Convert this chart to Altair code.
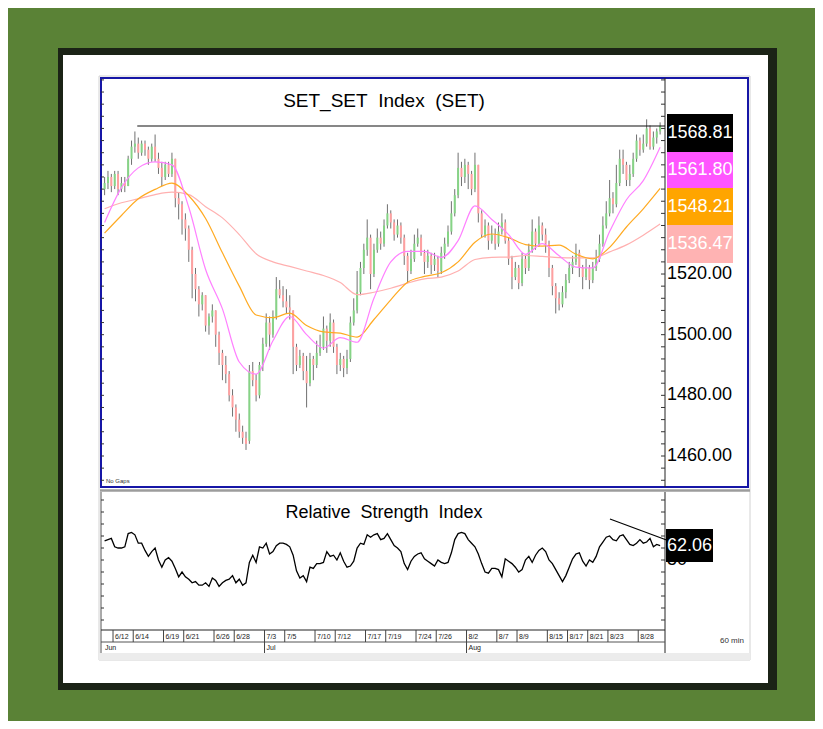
import altair as alt
import pandas as pd

# ---------------- data (hourly-ish bars, 3 per trading day) ----------------
opens = [1548,1550,1552,1549,1553,1548,1550,1549,1558,1562,
         1563,1560,1563,1561,1558,1562,1558,1555,1552,1556,
         1553,1558,1545,1543,1538,1535,1528,1520,1515,1510,
         1513,1503,1506,1508,1500,1494,1490,1487,1480,1476,
         1472,1468,1466,1465,1488,1485,1480,1490,1497,1504,
         1500,1506,1515,1513,1511,1509,1508,1496,1490,1493,
         1488,1484,1492,1490,1494,1496,1502,1498,1504,1496,
         1490,1492,1489,1492,1504,1508,1514,1522,1528,1532,
         1520,1528,1532,1530,1536,1540,1537,1533,1536,1532,
         1526,1521,1525,1530,1532,1527,1524,1526,1523,1525,
         1521,1527,1530,1534,1540,1546,1555,1552,1556,1553,
         1548,1556,1540,1533,1536,1531,1533,1530,1534,1537,
         1531,1525,1519,1522,1517,1525,1522,1528,1534,1530,
         1536,1533,1530,1522,1516,1512,1510,1514,1518,1522,
         1524,1527,1522,1519,1522,1518,1522,1525,1530,1536,
         1540,1545,1543,1550,1558,1556,1551,1553,1558,1564,
         1561,1563,1568,1562,1565,1567]
highs = [1552,1554,1553,1554,1554,1552,1552,1559,1564,1567,
         1565,1564,1564,1562,1563,1566,1560,1557,1557,1557,
         1560,1558,1547,1544,1540,1536,1529,1522,1516,1514,
         1513,1507,1510,1508,1501,1495,1493,1488,1482,1477,
         1474,1470,1468,1490,1491,1487,1491,1499,1507,1506,
         1508,1519,1518,1516,1515,1513,1508,1497,1495,1494,
         1493,1494,1493,1498,1500,1506,1503,1507,1505,1497,
         1494,1493,1495,1506,1512,1521,1524,1530,1538,1533,
         1530,1535,1534,1538,1543,1541,1538,1538,1537,1533,
         1527,1528,1533,1535,1533,1528,1528,1527,1527,1526,
         1529,1532,1536,1544,1548,1560,1557,1558,1557,1554,
         1560,1556,1541,1538,1537,1536,1535,1537,1540,1538,
         1532,1526,1524,1523,1527,1526,1530,1538,1535,1539,
         1537,1535,1531,1523,1517,1514,1516,1520,1524,1526,
         1530,1528,1523,1525,1523,1524,1528,1533,1539,1544,
         1551,1547,1556,1561,1561,1557,1556,1560,1566,1565,
         1566,1571,1569,1567,1568,1570]
lows = [1546,1548,1547,1548,1546,1547,1547,1549,1556,1560,
        1558,1559,1559,1556,1557,1557,1553,1549,1551,1552,
        1552,1542,1538,1533,1531,1524,1512,1511,1506,1508,
        1501,1500,1504,1496,1490,1485,1484,1478,1473,1468,
        1466,1464,1462,1464,1483,1478,1479,1488,1496,1495,
        1499,1505,1512,1509,1507,1505,1487,1488,1489,1485,
        1476,1483,1485,1489,1493,1495,1494,1496,1494,1487,
        1488,1486,1487,1491,1503,1507,1513,1520,1526,1515,
        1519,1527,1528,1529,1535,1535,1531,1532,1530,1523,
        1517,1520,1524,1529,1526,1520,1522,1520,1521,1519,
        1520,1525,1529,1533,1539,1545,1549,1550,1548,1546,
        1547,1537,1532,1532,1528,1530,1528,1529,1533,1530,
        1523,1515,1518,1515,1516,1520,1521,1527,1528,1529,
        1531,1527,1519,1513,1507,1508,1509,1512,1517,1520,
        1523,1519,1515,1518,1515,1517,1521,1524,1529,1535,
        1539,1540,1542,1549,1553,1549,1549,1552,1557,1559,
        1560,1562,1561,1561,1563,1566]
closes = [1550,1552,1549,1553,1548,1550,1549,1558,1562,1563,
          1560,1563,1561,1558,1562,1558,1555,1552,1556,1553,
          1558,1545,1543,1538,1535,1528,1520,1515,1510,1513,
          1503,1506,1508,1500,1494,1490,1487,1480,1476,1472,
          1468,1466,1464,1488,1485,1480,1490,1497,1504,1500,
          1506,1515,1513,1511,1509,1508,1496,1490,1493,1488,
          1484,1492,1490,1494,1496,1502,1498,1504,1496,1490,
          1492,1489,1492,1504,1508,1514,1522,1528,1532,1520,
          1528,1532,1530,1536,1540,1537,1533,1536,1532,1526,
          1521,1525,1530,1532,1527,1524,1526,1523,1525,1521,
          1527,1530,1534,1540,1546,1555,1552,1556,1553,1548,
          1556,1540,1533,1536,1531,1533,1530,1534,1537,1531,
          1525,1519,1522,1517,1525,1522,1528,1534,1530,1536,
          1533,1530,1522,1516,1512,1510,1514,1518,1522,1524,
          1527,1522,1519,1522,1518,1522,1525,1530,1536,1540,
          1545,1543,1550,1558,1556,1551,1553,1558,1564,1561,
          1563,1568,1562,1565,1567,1568.81]
rsi_values = [66,67,68,61,60,60,61,72,73,71,
              64,64,58,53,57,60,50,44,50,52,
              49,43,36,40,36,34,31,32,29,29,
              31,28,35,33,28,31,33,34,37,31,
              34,29,31,48,54,48,61,60,64,55,
              57,62,64,64,63,61,54,41,35,37,
              32,44,43,47,47,48,57,53,54,50,
              56,49,44,45,49,60,64,63,71,69,
              71,72,67,68,72,67,62,60,57,47,
              42,49,53,55,56,51,49,47,45,50,
              48,47,48,56,67,72,73,72,67,64,
              61,55,47,40,39,43,43,42,36,51,
              49,47,44,40,42,50,53,48,54,58,
              60,57,50,47,42,37,32,37,44,51,
              55,56,49,45,50,48,53,61,65,69,
              70,67,66,70,71,67,63,62,64,67,
              64,65,68,61,63,62.06]
# moving averages read every 5 bars
ma_short = [1537,1548.5,1555,1557,1556,1542,1521.5,1508.5,1491,1487,1498,1506,1500,1495.6,
            1499,1497.5,1512,1524,1527.5,1527.5,1525.5,1531,1542.5,1538,1533,1526.5,1530,
            1526,1522.3,1522,1534,1544.5,1550.8,1561.8]
ma_mid = [1533.5,1539.3,1544.8,1547.9,1550,1545.8,1538.3,1527,1516,1506.5,1505.6,1507.1,1503,
          1500.9,1500.5,1499.2,1505,1511.5,1517.3,1519.2,1520.4,1524,1530.5,1533.2,1532,1529.7,
          1529.2,1529.5,1526.5,1525,1528.8,1535.5,1541.5,1548.21]
ma_long = [1541.5,1543.5,1544.8,1546.2,1547,1546.2,1542.2,1538.5,1533,1526.7,1524,1522.5,1521,
           1519.5,1517.2,1513.2,1514,1515.3,1517,1518.4,1519,1521,1524.8,1525.5,1525.6,1526.1,
           1525.8,1525.4,1525.3,1525.3,1527.3,1529.6,1532.8,1536.47]
last_labels = ["1568.81", "1561.80", "1548.21", "1536.47"]
price_axis_labels = [1520, 1500, 1480, 1460]
date_labels = ["6/12","6/14","6/19","6/21","6/26","6/28","7/3","7/5","7/10","7/12","7/17",
               "7/19","7/24","7/26","8/2","8/7","8/9","8/15","8/17","8/21","8/23","8/28"]
date_days = [0,2,5,7,10,12,15,17,20,22,25,27,30,32,35,38,40,43,45,47,49,52]
month_labels = ["Jun", "Jul", "Aug"]
month_days = [-1, 15, 35]
resistance_level = 1568.81
resistance_from_day = 2.4
rsi_trend_days = [49.2, 54.8]
rsi_trend_vals = [84.2, 66.7]
rsi_last = 62.06

bars_per_day = 3
first_day = -1
n = len(closes)
bar_day = [first_day + (i + 0.5) / bars_per_day for i in range(n)]
bars = pd.DataFrame(dict(t=bar_day, o=opens, h=highs, l=lows, c=closes, rsi=rsi_values))
ma_every = 5
ma_day = [bar_day[i] for i in range(0, n, ma_every)]

DAY_DOMAIN = [-1.19, 54.65]
PRICE_DOMAIN = [1449.78, 1584.63]
RSI_DOMAIN = [-8.33, 106.67]
FONT = "Liberation Sans, Arial, sans-serif"
one = pd.DataFrame({"k": [0]})


def X(field="t"):
    return alt.X(f"{field}:Q", scale=alt.Scale(domain=DAY_DOMAIN, range=[93, 657], nice=False, zero=False), axis=None)


def YP(field):
    return alt.Y(f"{field}:Q", scale=alt.Scale(domain=PRICE_DOMAIN, range=[479, 70], nice=False, zero=False), axis=None)


def YR(field):
    return alt.Y(f"{field}:Q", scale=alt.Scale(domain=RSI_DOMAIN, range=[622, 484], nice=False, zero=False), axis=None)


def rect(x1, y1, x2, y2, **kw):
    return alt.Chart(one).mark_rect(**kw).encode(
        x=alt.value(x1), x2=alt.value(x2), y=alt.value(y1), y2=alt.value(y2))


def rule(x1, y1, x2, y2, **kw):
    return alt.Chart(one).mark_rule(**kw).encode(
        x=alt.value(x1), x2=alt.value(x2), y=alt.value(y1), y2=alt.value(y2))


def label(x, y, s, **kw):
    return alt.Chart(one).mark_text(text=s, font=FONT, **kw).encode(x=alt.value(x), y=alt.value(y))


layers = []
# frame
layers.append(rect(50, 40, 769, 682, color="#1b2316"))
layers.append(rect(55, 47, 760, 675, color="#ffffff"))
layers.append(rect(91, 68, 742, 652, fillOpacity=0, stroke="#d2d2d2", strokeWidth=1))
layers.append(rect(91, 645, 742, 652, color="#ececec"))
layers.append(rect(93, 70, 740, 479, fillOpacity=0, stroke="#1616a6", strokeWidth=2))
layers.append(rule(92, 482.5, 742, 482.5, color="#9c9c9c", strokeWidth=2.5))

# price axis lines & ticks
layers.append(rule(657, 70, 657, 479, color="#222222", strokeWidth=1))
price_ticks = pd.DataFrame({"v": list(range(1452, 1585, 4))})
layers.append(alt.Chart(price_ticks).mark_rule(color="#333333").encode(
    x=alt.value(653), x2=alt.value(657), y=YP("v")))
layers.append(alt.Chart(price_ticks).mark_rule(color="#333333").encode(
    x=alt.value(93), x2=alt.value(96), y=YP("v")))

# candles
layers.append(alt.Chart(bars).mark_rule(color="#707070", strokeWidth=1).encode(
    x=X(), y=YP("l"), y2="h"))
layers.append(alt.Chart(bars).mark_rule(strokeWidth=2).encode(
    x=X(), y=YP("o"), y2="c",
    color=alt.condition("datum.c >= datum.o", alt.value("#86d486"), alt.value("#ffa0a0"))))

# moving averages
for vals, col in [(ma_long, "#ffb0b0"), (ma_mid, "#ffaa22"), (ma_short, "#ff80ff")]:
    d = pd.DataFrame({"t": ma_day, "v": vals})
    layers.append(alt.Chart(d).mark_line(color=col, strokeWidth=1.2, interpolate="monotone").encode(
        x=X(), y=YP("v")))

# resistance line
res = pd.DataFrame({"t": [resistance_from_day], "t2": [DAY_DOMAIN[1]], "v": [resistance_level]})
layers.append(alt.Chart(res).mark_rule(color="#111111", strokeWidth=1.2).encode(
    x=X(), x2="t2", y=YP("v")))

# price labels
pl = pd.DataFrame({"v": price_axis_labels})
layers.append(alt.Chart(pl).mark_text(font=FONT, fontSize=18, align="left", baseline="middle",
                                      color="#000000").encode(
    x=alt.value(659), y=YP("v"), text=alt.Text("v:Q", format=".2f")))
box_cols = ["#000000", "#ff55ff", "#ffa500", "#ffb3b3"]
box_y = [106, 144, 180, 217, 255]
for k in range(4):
    layers.append(rect(659, box_y[k], 725, box_y[k + 1], color=box_cols[k]))
    layers.append(label(692, (box_y[k] + box_y[k + 1]) / 2, last_labels[k], fontSize=18,
                        color="#ffffff", align="center", baseline="middle"))

# titles
layers.append(label(376, 93, "SET_SET\u00a0 Index\u00a0 (SET)", fontSize=19, color="#000000",
                    align="center", baseline="middle"))
layers.append(label(98, 473, "No Gaps", fontSize=6, color="#333333", align="left", baseline="middle"))

# RSI panel
layers.append(rule(657, 484, 657, 645, color="#222222"))
layers.append(rule(93, 484, 93, 645, color="#555555"))
layers.append(rule(93, 622, 657, 622, color="#222222"))
layers.append(rule(93, 634, 657, 634, color="#555555"))
rsi_ticks = pd.DataFrame({"v": list(range(0, 101, 10))})
layers.append(alt.Chart(rsi_ticks).mark_rule(color="#333333").encode(
    x=alt.value(653), x2=alt.value(657), y=YR("v")))
layers.append(alt.Chart(rsi_ticks).mark_rule(color="#333333").encode(
    x=alt.value(93), x2=alt.value(96), y=YR("v")))
layers.append(label(376, 505, "Relative\u00a0 Strength\u00a0 Index", fontSize=18, color="#000000",
                    align="center", baseline="middle"))
layers.append(alt.Chart(bars).mark_line(color="#000000", strokeWidth=1.3).encode(x=X(), y=YR("rsi")))
tr = pd.DataFrame({"t": rsi_trend_days, "v": rsi_trend_vals})
layers.append(alt.Chart(tr).mark_line(color="#000000", strokeWidth=1.2).encode(x=X(), y=YR("v")))
fifty = pd.DataFrame({"v": [50]})
layers.append(alt.Chart(fifty).mark_text(font=FONT, fontSize=18, align="left", baseline="middle",
                                         color="#000000").encode(
    x=alt.value(659), y=YR("v"), text=alt.Text("v:Q")))
layers.append(rect(658, 521, 705, 554, color="#000000"))
layers.append(label(681.5, 537.5, f"{rsi_last:.2f}", fontSize=18, color="#ffffff",
                    align="center", baseline="middle"))

# date axis
dd = pd.DataFrame({"t": date_days, "lab": date_labels})
layers.append(alt.Chart(dd).mark_rule(color="#444444").encode(x=X(), y=alt.value(622), y2=alt.value(634)))
layers.append(alt.Chart(dd).mark_text(font=FONT, fontSize=7, align="left", baseline="middle", dx=2,
                                      color="#222222").encode(x=X(), y=alt.value(628.5), text="lab:N"))
md = pd.DataFrame({"t": month_days, "lab": month_labels})
layers.append(alt.Chart(md.iloc[1:]).mark_rule(color="#444444").encode(
    x=X(), y=alt.value(634), y2=alt.value(645)))
layers.append(alt.Chart(md).mark_text(font=FONT, fontSize=7, align="left", baseline="middle", dx=2,
                                      color="#222222").encode(x=X(), y=alt.value(640), text="lab:N"))
layers.append(label(724, 633, "60  min", fontSize=8, color="#333333", align="center", baseline="middle"))

chart = alt.layer(*layers).resolve_scale(x="independent", y="independent", color="independent").properties(
    width=807, height=713, background="#5a8236", padding=0,
    autosize=alt.AutoSizeParams(type="none")
).configure_view(strokeWidth=0)

chart.save("out.html", embed_options={"renderer": "svg", "actions": False})
